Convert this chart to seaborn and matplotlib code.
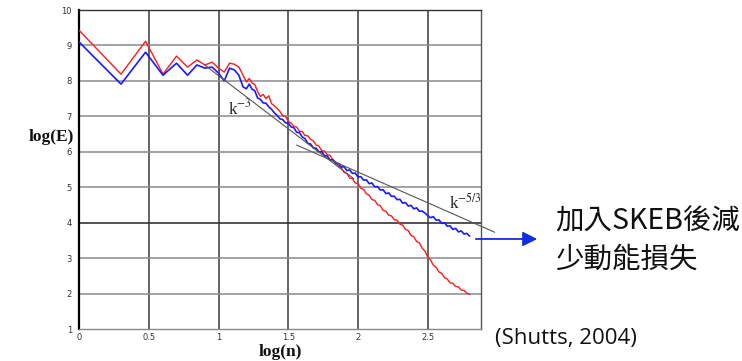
import numpy as np
import pandas as pd
import matplotlib
matplotlib.use("Agg")
import matplotlib.pyplot as plt
from matplotlib.patches import FancyArrowPatch
import seaborn as sns

# ---------------- data ----------------
logn_lo = [0.000, 0.301, 0.477, 0.602, 0.699, 0.778, 0.845, 0.903, 0.954,
           1.000, 1.041, 1.079, 1.114, 1.146, 1.176]
red_lo = [9.43, 8.19, 9.12, 8.19, 8.70, 8.39, 8.59, 8.45, 8.53,
          8.36, 8.25, 8.50, 8.47, 8.39, 8.16]
blue_lo = [9.10, 7.91, 8.81, 8.16, 8.50, 8.16, 8.45, 8.36, 8.39,
           8.22, 8.00, 8.36, 8.31, 8.16, 7.83]

logn_hi = [1.20, 1.22, 1.24, 1.26, 1.28, 1.30, 1.32, 1.34, 1.36, 1.38,
           1.40, 1.42, 1.44, 1.46, 1.48, 1.50, 1.52, 1.54, 1.56, 1.58,
           1.60, 1.62, 1.64, 1.66, 1.68, 1.70, 1.72, 1.74, 1.76, 1.78,
           1.80, 1.82, 1.84, 1.86, 1.88, 1.90, 1.92, 1.94, 1.96, 1.98,
           2.00, 2.02, 2.04, 2.06, 2.08, 2.10, 2.12, 2.14, 2.16, 2.18,
           2.20, 2.22, 2.24, 2.26, 2.28, 2.30, 2.32, 2.34, 2.36, 2.38,
           2.40, 2.42, 2.44, 2.46, 2.48, 2.50, 2.52, 2.54, 2.56, 2.58,
           2.60, 2.62, 2.64, 2.66, 2.68, 2.70, 2.72, 2.74, 2.76, 2.78,
           2.80]
red_hi = [7.97, 8.07, 7.94, 7.90, 7.70, 7.56, 7.62, 7.50, 7.58, 7.36,
          7.30, 7.22, 7.14, 7.02, 7.00, 6.86, 6.81, 6.72, 6.70, 6.58,
          6.57, 6.46, 6.45, 6.35, 6.31, 6.19, 6.16, 6.03, 6.02, 5.91,
          5.90, 5.76, 5.72, 5.59, 5.55, 5.42, 5.39, 5.26, 5.24, 5.12,
          5.10, 4.97, 4.94, 4.81, 4.78, 4.65, 4.63, 4.51, 4.48, 4.35,
          4.32, 4.21, 4.19, 4.08, 4.07, 3.96, 3.93, 3.81, 3.78, 3.64,
          3.60, 3.47, 3.43, 3.28, 3.20, 3.03, 2.95, 2.80, 2.74, 2.61,
          2.57, 2.45, 2.41, 2.30, 2.29, 2.20, 2.19, 2.10, 2.09, 2.01,
          1.98]
blue_hi = [7.78, 7.91, 7.77, 7.72, 7.52, 7.48, 7.38, 7.37, 7.27, 7.20,
           7.10, 7.03, 6.93, 6.91, 6.82, 6.81, 6.70, 6.68, 6.55, 6.54,
           6.42, 6.37, 6.24, 6.22, 6.11, 6.10, 6.00, 6.00, 5.89, 5.88,
           5.77, 5.78, 5.67, 5.67, 5.57, 5.58, 5.47, 5.49, 5.39, 5.40,
           5.29, 5.30, 5.20, 5.21, 5.10, 5.12, 5.01, 5.02, 4.92, 4.93,
           4.82, 4.84, 4.74, 4.75, 4.65, 4.66, 4.55, 4.57, 4.47, 4.49,
           4.39, 4.42, 4.32, 4.33, 4.27, 4.20, 4.14, 4.17, 4.07, 4.08,
           3.98, 4.00, 3.90, 3.91, 3.81, 3.84, 3.74, 3.77, 3.68, 3.70,
           3.62]

k3_x = [0.90, 1.97]
k3_y = [8.45, 5.24]
k53_x = [1.56, 2.98]
k53_y = [6.19, 3.73]

xticks = [0, 0.5, 1, 1.5, 2, 2.5]
xticklabels = ["0", "0.5", "1", "1.5", "2", "2.5"]
yticks = [1, 2, 3, 4, 5, 6, 7, 8, 9, 10]
yticklabels = ["1", "2", "3", "4", "5", "6", "7", "8", "9", "10"]

note_line1 = "加入SKEB後減"
note_line2 = "少動能損失"
citation = "(Shutts, 2004)"

# ---------------- plot ----------------
sns.set_style("white")
plt.rcParams["font.family"] = ["DejaVu Sans"]
plt.rcParams["mathtext.fontset"] = "stix"

fig = plt.figure(figsize=(7.42, 3.61), dpi=100)
ax = fig.add_axes([0.1065, 0.0886, 0.5418, 0.8836])

df_red = pd.DataFrame({"logn": logn_lo + logn_hi, "logE": red_lo + red_hi})
df_blue = pd.DataFrame({"logn": logn_lo + logn_hi, "logE": blue_lo + blue_hi})

ax.set_xlim(0, 2.882)
ax.set_ylim(1, 10)

# grid
for xv in [0.5, 1, 1.5, 2, 2.5]:
    ax.axvline(xv, color="#3a3a3a", lw=1.1, zorder=0)
for yv in [2, 3, 5, 6, 7, 8, 9]:
    ax.axhline(yv, color="#8a8a8a", lw=1.1, zorder=0)
ax.axhline(4, color="#333333", lw=1.2, zorder=0)

sns.lineplot(data=df_red, x="logn", y="logE", sort=False, estimator=None,
             color="#ff1a1a", lw=1.0, ax=ax, zorder=3)
sns.lineplot(data=df_blue, x="logn", y="logE", sort=False, estimator=None,
             color="#1a1aff", lw=1.2, ax=ax, zorder=4)

ax.plot(k3_x, k3_y, color="#555555", lw=0.8, zorder=5)
ax.plot(k53_x, k53_y, color="#555555", lw=0.8, zorder=5, clip_on=False)

ax.text(1.07, 7.23, r"k$^{-3}$", family="Liberation Serif", fontsize=12,
        ha="left", va="center", color="#222222")
ax.text(2.65, 4.55, r"k$^{-5/3}$", family="Liberation Serif", fontsize=12,
        ha="left", va="center", color="#222222")

ax.set_xticks(xticks)
ax.set_xticklabels(xticklabels)
ax.set_yticks(yticks)
ax.set_yticklabels(yticklabels)
ax.tick_params(axis="both", length=0, labelsize=6, labelcolor="#333333")
ax.tick_params(axis="x", pad=3)
ax.tick_params(axis="y", pad=5)
ax.set_xlabel("")
ax.set_ylabel("")

for side, col, lw in [("left", "#000000", 1.6), ("top", "#333333", 1.0),
                      ("right", "#555555", 1.0), ("bottom", "#888888", 1.0)]:
    ax.spines[side].set_visible(True)
    ax.spines[side].set_color(col)
    ax.spines[side].set_linewidth(lw)

fig.text(0.0697, 0.620, "log(E)", family="Liberation Serif", fontweight="bold",
         fontsize=12.5, ha="center", va="center", color="#111111")
fig.text(0.378, 0.025, "log(n)", family="Liberation Serif", fontweight="bold",
         fontsize=12.5, ha="center", va="center", color="#111111")

arrow = FancyArrowPatch((0.6375, 0.338), (0.7278, 0.338),
                        transform=fig.transFigure, arrowstyle="-|>",
                        mutation_scale=22, color="#1030e0", lw=1.3)
fig.add_artist(arrow)

fig.text(0.748, 0.385, note_line1, family=["Noto Sans CJK TC", "DejaVu Sans"],
         fontsize=20.5, ha="left", va="center", color="#111111")
fig.text(0.748, 0.280, note_line2, family=["Noto Sans CJK TC", "DejaVu Sans"],
         fontsize=20.5, ha="left", va="center", color="#111111")
fig.text(0.667, 0.061, citation, family=["Open Sans", "DejaVu Sans"],
         fontsize=16, ha="left", va="center", color="#111111")

fig.savefig("out.png", dpi=100)
